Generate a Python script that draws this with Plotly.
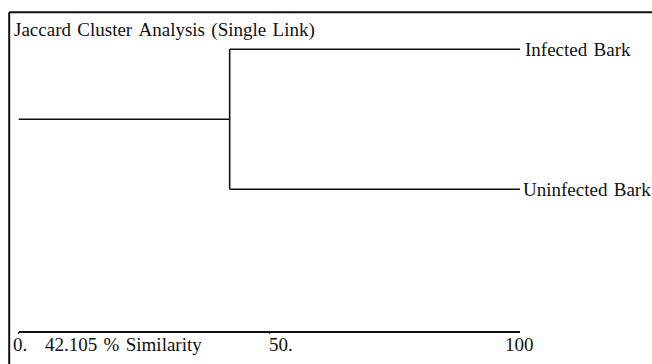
import plotly.graph_objects as go

# ---- data ----
leaves = ["Infected Bark", "Uninfected Bark"]
leaf_pos = [0, 1]               # leaf order (top to bottom)
merge_similarity = 42.105       # % similarity at which the two leaves join
leaf_similarity = 100           # leaves sit at 100 % similarity
root_similarity = 0
tick_vals = [0, 50]
tick_labels = ["0.", "50.", "100"]
axis_label = "42.105 % Similarity"
title = "Jaccard Cluster Analysis (Single Link)"

W, H = 652, 364
FONT = "Liberation Serif"
LINE = dict(color="#111111", width=1.6)
SP = " \u200a"  # slightly wider word spacing


def wide(s):
    return s.replace(" ", SP)


mid = sum(leaf_pos) / len(leaf_pos)

fig = go.Figure()
# root stem
fig.add_trace(go.Scatter(x=[root_similarity, merge_similarity], y=[mid, mid],
                         mode="lines", line=LINE, hoverinfo="skip"))
# vertical link
fig.add_trace(go.Scatter(x=[merge_similarity, merge_similarity], y=[leaf_pos[0], leaf_pos[1]],
                         mode="lines", line=LINE, hoverinfo="skip"))
# leaf branches
for p in leaf_pos:
    fig.add_trace(go.Scatter(x=[merge_similarity, leaf_similarity], y=[p, p],
                             mode="lines", line=LINE, hoverinfo="skip"))

# layout geometry (pixels)
x0_px, x100_px = 18.5, 520.0
axis_y_px = 330.5
leaf0_px, leaf1_px = 49.3, 189.3
unit = (leaf1_px - leaf0_px)
y_top = -leaf0_px / unit
y_bot = (axis_y_px - leaf0_px) / unit

fig.update_layout(
    width=W, height=H,
    margin=dict(l=0, r=0, t=0, b=0),
    paper_bgcolor="white", plot_bgcolor="white",
    showlegend=False,
    xaxis=dict(domain=[x0_px / W, x100_px / W], range=[0, 100],
               showgrid=False, zeroline=False, showline=True,
               linecolor="#111111", linewidth=1.6,
               ticks="outside", ticklen=2, tickcolor="#111111",
               tickvals=tick_vals, showticklabels=False, fixedrange=True),
    yaxis=dict(domain=[(H - axis_y_px) / H, 1], range=[y_bot, y_top],
               visible=False, fixedrange=True),
)

# frame (top and left borders)
fx = 9.2 / W
fy = 1 - 12.3 / H
fig.add_shape(type="line", xref="paper", yref="paper", x0=fx, x1=fx, y0=-0.1, y1=fy,
              line=dict(color="#111111", width=2))
fig.add_shape(type="line", xref="paper", yref="paper", x0=fx, x1=1.1, y0=fy, y1=fy,
              line=dict(color="#111111", width=2))

font = dict(family=FONT, size=19, color="#111111")

fig.add_annotation(text=wide(title), xref="paper", yref="paper", x=12 / W, y=1 - 29.5 / H,
                   xanchor="left", yanchor="middle", showarrow=False, font=font)

# leaf labels
shifts = [2.5, 1]
for name, p, s in zip(leaves, leaf_pos, shifts):
    fig.add_annotation(text=wide(name), x=leaf_similarity, y=p, xref="x", yref="y",
                       xanchor="left", yanchor="middle", xshift=s, showarrow=False, font=font)

# axis labels
lab_y = (H - 344) / H
fig.add_annotation(text=tick_labels[0], x=0, y=lab_y, xref="x", yref="paper",
                   xanchor="left", yanchor="middle", xshift=-7.5, showarrow=False, font=font)
fig.add_annotation(text=wide(axis_label), x=0, y=lab_y, xref="x", yref="paper",
                   xanchor="left", yanchor="middle", xshift=24.5, showarrow=False, font=font)
fig.add_annotation(text=tick_labels[1], x=50, y=lab_y, xref="x", yref="paper",
                   xanchor="left", yanchor="middle", xshift=-2, showarrow=False, font=font)
fig.add_annotation(text=tick_labels[2], x=100, y=lab_y, xref="x", yref="paper",
                   xanchor="center", yanchor="middle", xshift=-1, showarrow=False, font=font)

fig.write_html("out.html", config={"displayModeBar": False},
               post_script="document.body.style.margin='0';document.body.style.overflow='hidden';")
